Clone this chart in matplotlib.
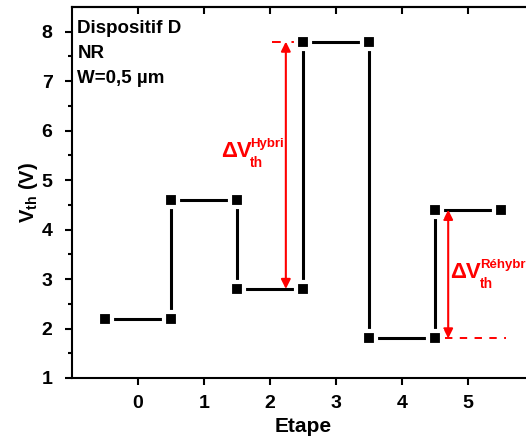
import matplotlib.pyplot as plt
import numpy as np

etape = [0, 1, 2, 3, 4, 5]
vth = [2.2, 4.6, 2.8, 7.8, 1.8, 4.4]

xticks = [0, 1, 2, 3, 4, 5]
yticks = [1, 2, 3, 4, 5, 6, 7, 8]

# chaque etape = un palier de largeur 1
xs = []
ys = []
for e, v in zip(etape, vth):
    xs += [e - 0.5, e + 0.5]
    ys += [v, v]

plt.rcParams['font.family'] = ['Liberation Sans', 'DejaVu Sans']
plt.rcParams['font.weight'] = 'bold'
plt.rcParams['mathtext.fontset'] = 'custom'
plt.rcParams['mathtext.rm'] = 'Liberation Sans:bold'
plt.rcParams['mathtext.bf'] = 'Liberation Sans:bold'

fig = plt.figure(figsize=(5.26, 4.38), dpi=100)
ax = fig.add_axes([72/526, 60/438, 462/526, 371/438])

ax.plot(xs, ys, color='black', lw=2.2, zorder=3)
ax.plot(xs, ys, ls='none', marker='s', ms=9.5, mfc='black',
        mec='white', mew=3, zorder=4)

red = '#ff0000'


def delta_label(x, y, x2, sup):
    ax.text(x, y, 'ΔV', color=red, fontsize=16, fontweight='bold',
            ha='left', va='baseline')
    ax.annotate(sup, (x2, y), xytext=(0, 7.5), textcoords='offset points',
                color=red, fontsize=9.5, fontweight='bold', ha='left', va='baseline')
    ax.annotate('th', (x2, y), xytext=(0, -7), textcoords='offset points',
                color=red, fontsize=10, fontweight='bold', ha='left', va='baseline')


# Hybridation
ax.plot([2.03, 2.45], [vth[3], vth[3]], color=red, lw=1.4, dashes=(4.5, 5.5))
ax.annotate('', xy=(2.24, vth[3]), xytext=(2.24, vth[2]),
            arrowprops=dict(arrowstyle='<|-|>', color=red, lw=1.5,
                            mutation_scale=14, shrinkA=0, shrinkB=0))
delta_label(1.258, 5.464, 1.697, 'Hybri')

# Rehybridation
ax.plot([4.65, 5.57], [vth[4], vth[4]], color=red, lw=1.4, dashes=(3.8, 3.8))
ax.annotate('', xy=(4.7, vth[5]), xytext=(4.7, vth[4]),
            arrowprops=dict(arrowstyle='<|-|>', color=red, lw=1.5,
                            mutation_scale=14, shrinkA=0, shrinkB=0))
delta_label(4.727, 3.02, 5.18, 'Réhybr')

for txt, yy in zip(['Dispositif D', 'NR', 'W=0,5 µm'], [7.975, 7.47, 6.96]):
    ax.text(-0.92, yy, txt, fontsize=13.5, fontweight='bold',
            va='baseline', ha='left')

ax.set_xlim(-1, 6)
ax.set_ylim(1, 8.5)
ax.set_xticks(xticks)
ax.set_yticks(yticks)
ax.set_yticks(np.arange(1.5, 8.5, 1), minor=True)
ax.tick_params(axis='both', labelsize=14, width=1.5, length=5)
ax.tick_params(axis='y', which='minor', width=1.5, length=3)
ax.tick_params(axis='y', pad=9)
ax.tick_params(axis='x', pad=7)
for t in ax.get_xticklabels() + ax.get_yticklabels():
    t.set_fontweight('bold')

# axe du haut: ticks vers l'interieur
top = ax.secondary_xaxis('top')
top.set_xticks(xticks)
top.tick_params(direction='in', length=5, width=1.5, labeltop=False)
top.spines['top'].set_linewidth(1.5)

ax.spines['right'].set_visible(False)
for s in ['left', 'bottom', 'top']:
    ax.spines[s].set_linewidth(1.5)

ax.set_xlabel('Etape', fontsize=15, fontweight='bold', labelpad=4)
ax.set_ylabel(r'V$_{\mathrm{th}}$ (V)', fontsize=14.5, fontweight='bold')
ax.yaxis.set_label_coords(-0.069, 0.5)

fig.savefig('out.png', dpi=100)
